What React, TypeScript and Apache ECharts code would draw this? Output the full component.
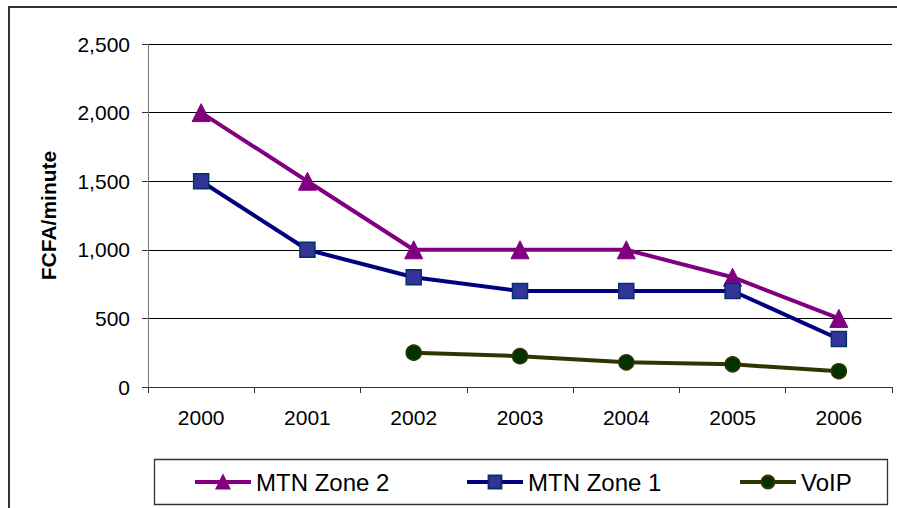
import React, { useEffect, useRef } from "react";
import * as echarts from "echarts";

const categories = ["2000", "2001", "2002", "2003", "2004", "2005", "2006"];
const mtnZone2 = [2000, 1500, 1000, 1000, 1000, 800, 500];
const mtnZone1 = [1500, 1000, 800, 700, 700, 700, 350];
const voip = [null, null, 250, 225, 180, 165, 115];
const seriesNames = ["MTN Zone 2", "MTN Zone 1", "VoIP"];
const yTicks = { min: 0, max: 2500, interval: 500 };

export default function App() {
  const ref = useRef<HTMLDivElement>(null);
  useEffect(() => {
    if (!ref.current) return;
    const chart = echarts.init(ref.current, null, { renderer: "svg" });
    const font = "Arial, 'Liberation Sans', sans-serif";
    const legendCommon = {
      orient: "horizontal",
      top: 468,
      padding: 0,
      itemWidth: 56,
      itemHeight: 16,
      lineStyle: { width: 4 },
      textStyle: { fontFamily: font, fontSize: 24, color: "#000", lineHeight: 28 },
    };
    chart.setOption({
      animation: false,
      backgroundColor: "#fff",
      textStyle: { fontFamily: font },
      graphic: [
        {
          type: "rect",
          shape: { x: 9, y: 7, width: 900, height: 520 },
          style: { fill: "none", stroke: "#333", lineWidth: 2 },
          silent: true,
        },
        {
          type: "rect",
          shape: { x: 154.5, y: 459.5, width: 733, height: 45 },
          style: { fill: "#fff", stroke: "#333", lineWidth: 1.3 },
          silent: true,
          z: 0,
        },
      ],
      grid: { left: 148, top: 44, right: 5, bottom: 121, containLabel: false },
      legend: [
        { ...legendCommon, left: 193, data: [seriesNames[0]] },
        { ...legendCommon, left: 465, data: [seriesNames[1]] },
        { ...legendCommon, left: 738, data: [seriesNames[2]] },
      ],
      xAxis: {
        type: "category",
        data: categories,
        boundaryGap: true,
        axisLine: { lineStyle: { color: "#333", width: 1 } },
        axisTick: { show: true, length: 6, alignWithLabel: false, lineStyle: { color: "#333" } },
        axisLabel: { fontFamily: font, fontSize: 21, color: "#000", margin: 20 },
      },
      yAxis: {
        type: "value",
        min: yTicks.min,
        max: yTicks.max,
        interval: yTicks.interval,
        name: "FCFA/minute",
        nameLocation: "middle",
        nameGap: 89,
        nameTextStyle: { fontFamily: font, fontSize: 21, fontWeight: "bold", color: "#000" },
        axisLine: { show: true, lineStyle: { color: "#777", width: 1 } },
        axisTick: { show: true, length: 6, lineStyle: { color: "#333" } },
        axisLabel: {
          fontFamily: font,
          fontSize: 21,
          color: "#000",
          margin: 18,
          formatter: (v: number) => v.toLocaleString("en-US"),
        },
        splitLine: { show: true, lineStyle: { color: "#000", width: 1 } },
      },
      series: [
        {
          name: seriesNames[0],
          type: "line",
          data: mtnZone2,
          symbol: "triangle",
          symbolSize: 18,
          lineStyle: { color: "#800080", width: 4 },
          itemStyle: { color: "#800080", borderColor: "#800080", borderWidth: 1 },
          z: 3,
        },
        {
          name: seriesNames[1],
          type: "line",
          data: mtnZone1,
          symbol: "rect",
          symbolSize: 15,
          lineStyle: { color: "#000080", width: 4 },
          itemStyle: { color: "#333399", borderColor: "#003366", borderWidth: 1.5 },
          z: 4,
        },
        {
          name: seriesNames[2],
          type: "line",
          data: voip,
          symbol: "circle",
          symbolSize: 15,
          connectNulls: false,
          lineStyle: { color: "#333300", width: 4 },
          itemStyle: { color: "#003300", borderColor: "#333300", borderWidth: 1.5 },
          z: 5,
        },
      ],
    });
    return () => chart.dispose();
  }, []);
  return (
    <div
      ref={ref}
      style={{ position: "absolute", left: 0, top: 0, width: 897, height: 508 }}
    />
  );
}
